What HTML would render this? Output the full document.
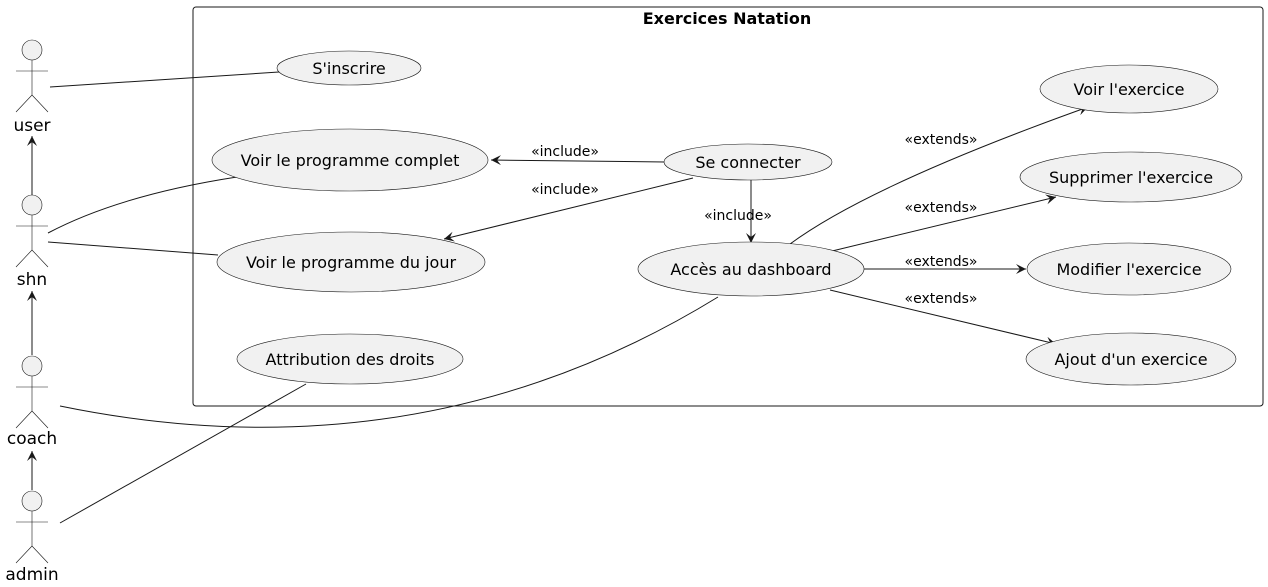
<!DOCTYPE html>
<html><head><meta charset="utf-8"><style>body{margin:0;background:#fff}svg{display:block}text{font-family:"DejaVu Sans","Liberation Sans",sans-serif}</style></head><body>
<svg width="1268" height="587" viewBox="0 0 1268 587" xmlns="http://www.w3.org/2000/svg">
<defs><marker id="a" markerWidth="12" markerHeight="12" refX="10" refY="5" orient="auto" markerUnits="userSpaceOnUse"><path d="M0,0 L10,5 L0,10 L4,5 Z" fill="#181818"/></marker></defs>
<rect x="193" y="7" width="1070" height="399" rx="3" fill="none" stroke="#181818" stroke-width="1"/>
<text x="727" y="24" font-size="16" font-weight="bold" text-anchor="middle">Exercices Natation</text>
<g fill="none" stroke="#181818" stroke-width="1">
<path d="M50,87 L279,72"/>
<path d="M48,233 Q120,195 237,177"/>
<path d="M48,242 L218,255"/>
<path d="M60,406 Q420,480 718,297"/>
<path d="M60,523 L306,384"/>
<path d="M665,162 L491,160" marker-end="url(#a)"/>
<path d="M693,178 L444,239" marker-end="url(#a)"/>
<path d="M751,180 L751,243" marker-end="url(#a)"/>
<path d="M790,244 Q870,185 1088,107" marker-end="url(#a)"/>
<path d="M828,252 L1056,197" marker-end="url(#a)"/>
<path d="M864,269 L1026,269" marker-end="url(#a)"/>
<path d="M830,290 L1056,344" marker-end="url(#a)"/>
<path d="M32,195 L32,136" marker-end="url(#a)"/>
<path d="M32,355 L32,291" marker-end="url(#a)"/>
<path d="M32,490 L32,451" marker-end="url(#a)"/>
</g>
<g fill="#f1f1f1" stroke="#181818" stroke-width="0.6">
<ellipse cx="349" cy="68" rx="72" ry="17"/>
<ellipse cx="350" cy="160" rx="138" ry="31"/>
<ellipse cx="351" cy="262" rx="134" ry="30"/>
<ellipse cx="350" cy="359" rx="113" ry="25"/>
<ellipse cx="748" cy="162" rx="84" ry="18"/>
<ellipse cx="751" cy="269" rx="113" ry="27"/>
<ellipse cx="1129" cy="89" rx="89" ry="24"/>
<ellipse cx="1131" cy="177" rx="111" ry="25"/>
<ellipse cx="1129" cy="269" rx="102" ry="26"/>
<ellipse cx="1131" cy="359" rx="105" ry="26"/>
</g>
<g font-size="16" text-anchor="middle" fill="#000">
<text x="349" y="74">S'inscrire</text>
<text x="350" y="166">Voir le programme complet</text>
<text x="351" y="268">Voir le programme du jour</text>
<text x="350" y="365">Attribution des droits</text>
<text x="748" y="168">Se connecter</text>
<text x="751" y="275">Accès au dashboard</text>
<text x="1129" y="95">Voir l'exercice</text>
<text x="1131" y="183">Supprimer l'exercice</text>
<text x="1129" y="275">Modifier l'exercice</text>
<text x="1131" y="365">Ajout d'un exercice</text>
</g>
<g font-size="14" text-anchor="middle" fill="#000">
<text x="565" y="156">«include»</text>
<text x="565" y="194">«include»</text>
<text x="738" y="220">«include»</text>
<text x="941" y="144">«extends»</text>
<text x="941" y="212">«extends»</text>
<text x="941" y="266">«extends»</text>
<text x="941" y="303">«extends»</text>
</g>
<g fill="#f1f1f1" stroke="#181818" stroke-width="0.6">
<g transform="translate(32,0)"><circle cx="0" cy="50" r="10"/><path d="M0,60 V95 M-16,71 H16 M0,95 L-16,112 M0,95 L16,112" fill="none"/></g>
<g transform="translate(32,155)"><circle cx="0" cy="50" r="10"/><path d="M0,60 V95 M-16,71 H16 M0,95 L-16,112 M0,95 L16,112" fill="none"/></g>
<g transform="translate(32,316)"><circle cx="0" cy="50" r="10"/><path d="M0,60 V95 M-16,71 H16 M0,95 L-16,112 M0,95 L16,112" fill="none"/></g>
<g transform="translate(32,451)"><circle cx="0" cy="50" r="10"/><path d="M0,60 V95 M-16,71 H16 M0,95 L-16,112 M0,95 L16,112" fill="none"/></g>
</g>
<g font-size="17" text-anchor="middle" fill="#000">
<text x="32" y="131">user</text>
<text x="32" y="285">shn</text>
<text x="32" y="444">coach</text>
<text x="32" y="580">admin</text>
</g>
</svg>
</body></html>
